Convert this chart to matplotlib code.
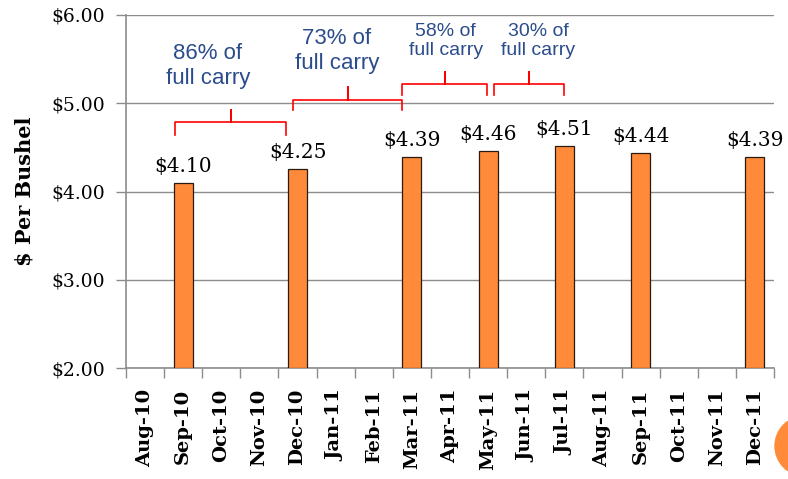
import matplotlib
matplotlib.use("Agg")
import matplotlib.pyplot as plt
from matplotlib.patches import Circle
from matplotlib.transforms import IdentityTransform
import numpy as np

months = ["Aug-10", "Sep-10", "Oct-10", "Nov-10", "Dec-10", "Jan-11", "Feb-11",
          "Mar-11", "Apr-11", "May-11", "Jun-11", "Jul-11", "Aug-11", "Sep-11",
          "Oct-11", "Nov-11", "Dec-11"]
bar_months = ["Sep-10", "Dec-10", "Mar-11", "May-11", "Jul-11", "Sep-11", "Dec-11"]
prices = [4.10, 4.25, 4.39, 4.46, 4.51, 4.44, 4.39]
yticks = [2.0, 3.0, 4.0, 5.0, 6.0]
carry_labels = ["86% of\nfull carry", "73% of\nfull carry", "58% of\nfull carry", "30% of\nfull carry"]

plt.rcParams['font.family'] = ['DejaVu Serif']

W, H = 788, 479
fig = plt.figure(figsize=(W/100, H/100), dpi=100)
ax = fig.add_axes([126/W, 1 - 368/H, (774 - 126)/W, (368 - 15)/H])

xpos = [months.index(m) for m in bar_months]
ax.bar(xpos, [p - 2.0 for p in prices], bottom=2.0, width=0.5,
       color="#FF8B3A", edgecolor="#2a1a10", linewidth=0.9, zorder=3)
for x, p in zip(xpos, prices):
    ax.text(x, p + 0.08, f"${p:.2f}", ha="center", va="bottom", fontsize=14.5, color="black")

ax.set_xlim(-0.5, len(months) - 0.5)
ax.set_ylim(2.0, 6.0)
ax.set_yticks(yticks)
ax.set_yticklabels([f"${v:.2f}" for v in yticks], fontsize=13.5)
ax.set_xticks(range(len(months)))
ax.set_xticklabels(months, rotation=90, fontsize=14, fontweight="bold")
ax.set_xticks(np.arange(-0.5, len(months)), minor=True)
ax.tick_params(axis="x", which="major", length=0, pad=15)
ax.tick_params(axis="x", which="minor", length=7, color="#8c8c8c", width=1)
ax.tick_params(axis="y", length=7, color="#8c8c8c", width=1, pad=8)
ax.grid(axis="y", color="#8c8c8c", linewidth=1, zorder=0)
for s in ["top", "right"]:
    ax.spines[s].set_visible(False)
for s in ["left", "bottom"]:
    ax.spines[s].set_color("#8c8c8c")
    ax.spines[s].set_linewidth(1.2)

ax.set_ylabel("$ Per Bushel", fontsize=15, fontweight="bold", labelpad=12)

# brackets
brackets = [
    (0.79, 3.70, 4.64, 4.785, 4.92),
    (3.89, 6.74, 4.92, 5.034, 5.18),
    (6.74, 8.98, 5.09, 5.22, 5.355),
    (9.16, 11.0, 5.09, 5.22, 5.355),
]
for (x0, x1, yb, ym, yt) in brackets:
    xm = (x0 + x1) / 2
    ax.plot([x0, x0, xm, xm, xm, x1, x1], [yb, ym, ym, yt, ym, ym, yb],
            color="red", linewidth=1.2, clip_on=False, zorder=4)

text_pos = [(208, 66, 16, 1.25), (337, 51, 16, 1.25), (445.7, 41, 14, 1.2), (538, 41, 14, 1.2)]
for lbl, (px, py, fs, ls) in zip(carry_labels, text_pos):
    fig.text(px/W, 1 - py/H, lbl, ha="center", va="center", fontsize=fs,
             color="#2B4C8C", family="Liberation Sans", linespacing=ls)

fig.patches.append(Circle((805, H - 446), 30, transform=IdentityTransform(),
                          color="#FF8B3A", zorder=5))

fig.savefig("out.png", dpi=100)
